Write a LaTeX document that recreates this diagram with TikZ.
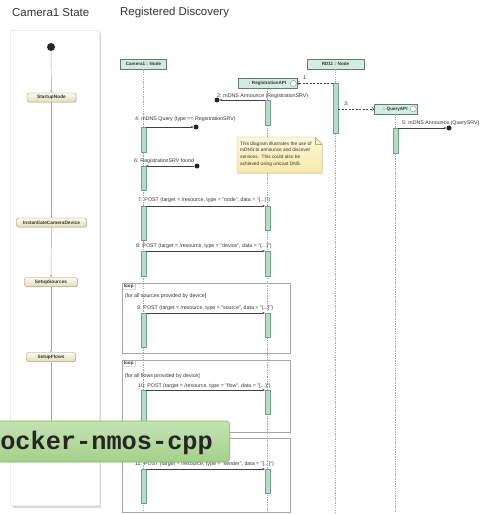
\documentclass[tikz,border=0pt]{standalone}
\usepackage{fontspec}
\setmainfont{Liberation Sans}
\newfontfamily\bannerfont{Liberation Mono}
\usetikzlibrary{arrows.meta, positioning, shadows}

\definecolor{headbg}{HTML}{D3ECDF}
\definecolor{headline}{HTML}{5E7F6E}
\definecolor{barfill}{HTML}{B7DDCA}
\definecolor{barline}{HTML}{6FA28C}
\definecolor{statetop}{HTML}{FBFBF0}
\definecolor{statebot}{HTML}{E2DFB4}
\definecolor{stateline}{HTML}{8F8D74}
\definecolor{notetop}{HTML}{FDF8D8}
\definecolor{notebot}{HTML}{F7E9A8}
\definecolor{noteline}{HTML}{B9AD84}
\definecolor{bannertop}{HTML}{C4E3B2}
\definecolor{bannerbot}{HTML}{A5D08C}
\definecolor{bannerline}{HTML}{82B468}
\definecolor{frameline}{HTML}{A8A8A8}
\definecolor{txt}{HTML}{333333}

\begin{document}
\begin{tikzpicture}[
        x=0.05cm, y=-0.05cm,
        >={Stealth[length=3.5pt, width=3pt]},
        title/.style={font=\fontsize{16.3}{18}\selectfont, text=txt, anchor=west, inner sep=0},
        state/.style={rectangle, rounded corners=3pt, draw=stateline, top color=statetop, bottom color=statebot,
            font=\fontsize{6.8}{7}\selectfont\bfseries, text=txt, minimum height=0.45cm, inner sep=1pt,
            drop shadow={shadow xshift=0.8pt, shadow yshift=-0.8pt, opacity=0.35}},
        trans/.style={draw=gray!70, line width=0.6pt},
        head/.style={rectangle, draw=headline, fill=headbg, font=\fontsize{6.5}{7}\selectfont\bfseries,
            text=txt, minimum height=0.5cm, inner sep=1pt,
            drop shadow={shadow xshift=0.8pt, shadow yshift=-0.8pt, opacity=0.35}},
        icon/.style={circle, draw=headline, fill=white, minimum size=0.3cm, inner sep=0},
        lifeline/.style={draw=gray!70, line width=0.6pt, dash pattern=on 2pt off 1.5pt},
        actbar/.style={rectangle, draw=barline, fill=barfill, minimum width=0.25cm, minimum height=#1*0.05cm,
            inner sep=0, anchor=north},
        dot/.style={circle, fill=black!85, minimum size=0.25cm, inner sep=0},
        msg/.style={font=\fontsize{7.5}{8}\selectfont, text=txt, anchor=west, inner sep=0},
        call/.style={->, draw=black!75, line width=0.5pt},
        reply/.style={-{Straight Barb[length=3pt]}, draw=black!75, line width=0.5pt, dash pattern=on 3pt off 2pt},
        frame/.style={draw=frameline, line width=0.6pt},
        looptab/.style={font=\fontsize{6.5}{7}\selectfont\bfseries, text=txt, anchor=north west, inner xsep=2.5pt, inner ysep=1.4pt}
    ]

    \useasboundingbox (0,0) rectangle (483,514);

    \node (statetitle) [title] at (12,13) {Camera1 State};
    \node (seqtitle) [title] at (120,13) {Registered Discovery};

    % state machine
    \fill[gray!30] (13,33) rectangle (101,507.5);
    \filldraw[fill=white, draw=gray!15] (10,30) rectangle (99,505);

    \node (init) [circle, fill=black!85, minimum size=0.4cm, inner sep=0] at (51,47) {};
    \node (startup) [state, minimum width=2.45cm] at (51.5,97.5) {StartupNode};
    \node (instantiate) [state, minimum width=3.5cm] at (51.5,222.5) {InstantiateCameraDevice};
    \node (sources) [state, minimum width=2.65cm] at (51,282) {SetupSources};
    \node (flows) [state, minimum width=2.45cm] at (51,357) {SetupFlows};
    \coordinate (flowsout) at (51,445);

    \draw [trans, ->] (init) -- (startup);
    \draw [trans, ->] (startup) -- (instantiate);
    \draw [trans, ->] (instantiate) -- (sources);
    \draw [trans, ->] (sources) -- (flows);
    \draw [trans] (flows) -- (flowsout);

    % sequence diagram
    \node (camera) [head, minimum width=2.3cm] at (143.5,64) {Camera1 : Node};
    \node (rd) [head, minimum width=2.85cm] at (335.5,64) {RD11 : Node};
    \node (regapi) [head, minimum width=2.95cm] at (267.5,83.5) {: RegistrationAPI\hspace{0.35cm}};
    \node (queryapi) [head, minimum width=2.15cm] at (395.5,109) {: QueryAPI\hspace{0.35cm}};
    \node (regicon) [icon, left=1pt of regapi.east] {};
    \node (queryicon) [icon, left=1pt of queryapi.east] {};

    \coordinate (cameraend) at (143.5,511);
    \coordinate (regapiend) at (267.5,512);
    \coordinate (rdend) at (335.5,512);
    \coordinate (queryapiend) at (395.5,512);
    \draw [lifeline] (camera) -- (cameraend);
    \draw [lifeline] (regapi) -- (regapiend);
    \draw [lifeline] (rd) -- (rdend);
    \draw [lifeline] (queryapi) -- (queryapiend);

    % note
    \filldraw [draw=noteline, top color=notetop, bottom color=notebot, line width=0.6pt]
        (237,137) -- (315,137) -- (322,144) -- (322,173) -- (237,173) -- cycle;
    \draw [noteline, line width=0.5pt] (315,137) -- (315,144) -- (322,144);
    \node (note) [anchor=north west, align=left, inner sep=0, text=txt, font=\fontsize{6.8}{9.6}\selectfont] at (240,141.5)
        {This diagram illustrates the use of\\mDNS to announce and discover\\services.\ \ This could also be\\achieved using unicast DNS.};

    % loops
    \draw [frame] (122,283) rectangle (290,353);
    \draw [frame] (122,360) rectangle (290,432);
    \draw [frame] (122,438) rectangle (290,512);
    \node (loopa) [looptab] at (122,283) {loop};
    \node (loopb) [looptab] at (122,360) {loop};
    \node (loopc) [looptab] at (122,438) {loop};
    \foreach \t in {loopa, loopb, loopc}
        \draw [frame] (\t.north east) -- ([yshift=1.5pt]\t.south east) -- ([xshift=-1.5pt]\t.south east) -- (\t.south west);
    \node (guarda) [msg] at (125,296) {[for all sources provided by device]};
    \node (guardb) [msg] at (125,376) {[for all flows provided by device]};

    % activations
    \node (rd1) [actbar=50] at (335.5,83) {};
    \node (reg2) [actbar=25] at (267.5,100) {};
    \node (cam4) [actbar=25] at (143.5,127) {};
    \node (qry5) [actbar=25] at (395.5,128) {};
    \node (cam6) [actbar=24] at (143.5,166) {};
    \node (cam7) [actbar=34] at (143.5,206) {};
    \node (reg7) [actbar=24] at (267.5,206) {};
    \node (cam8) [actbar=25] at (143.5,251) {};
    \node (reg8) [actbar=25] at (267.5,251) {};
    \node (cam9) [actbar=34] at (143.5,313) {};
    \node (reg9) [actbar=24] at (267.5,313) {};
    \node (cam10) [actbar=34] at (143.5,390) {};
    \node (reg10) [actbar=24] at (267.5,390) {};
    \node (cam11) [actbar=34] at (143.5,469) {};
    \node (reg11) [actbar=24] at (267.5,469) {};

    \node (dot2) [dot] at (217,100) {};
    \node (dot4) [dot] at (196,127) {};
    \node (dot5) [dot] at (449,128) {};
    \node (dot6) [dot] at (197,166) {};

    % messages
    \draw [reply] (rd1.north west) -- (rd1.north west -| regapi.east);
    \draw [call] (reg2.north west) -- (dot2);
    \draw [reply] (queryapi.west -| rd1.east) -- (queryapi.west);
    \draw [call] (cam4.north east) -- (dot4);
    \draw [call] (qry5.north east) -- (dot5);
    \draw [call] (dot6) -- (cam6.north east);
    \draw [call] (cam7.north east) -- (reg7.north west);
    \draw [call] (cam8.north east) -- (reg8.north west);
    \draw [call] (cam9.north east) -- (reg9.north west);
    \draw [call] (cam10.north east) -- (reg10.north west);
    \draw [call] (cam11.north east) -- (reg11.north west);

    \node (m1) [msg] at (303,78) {1:};
    \node (m2) [msg] at (217,96) {2: mDNS Announce (RegistrationSRV)};
    \node (m3) [msg] at (344,104) {3:};
    \node (m4) [msg] at (135,119) {4: mDNS Query (type == RegistrationSRV)};
    \node (m5) [msg] at (402,123) {5: mDNS Announce (QuerySRV)};
    \node (m6) [msg] at (134,161) {6: RegistrationSRV found};
    \node (m7) [msg] at (138,200) {7: POST (target = /resource, type = "node", data = "\{...\}")};
    \node (m8) [msg] at (136,246) {8: POST (target = /resource, type = "device", data = "\{...\}")};
    \node (m9) [msg] at (137,308) {9: POST (target = /resource, type = "source", data = "\{...\}")};
    \node (m10) [msg] at (138,386) {10: POST (target = /resource, type = "flow", data = "\{...\}")};
    \node (m11) [msg] at (135,464) {11: POST (target = /resource, type = "sender", data = "\{...\}")};

    % banner
    \node (banner) [rectangle, rounded corners=5pt, draw=bannerline, line width=0.8pt, top color=bannertop,
        bottom color=bannerbot, minimum width=12.5cm, minimum height=2.05cm, anchor=east] at (230,441.5) {};
    \node (bannertext) [anchor=east, inner sep=0, text=black!85, font=\bannerfont\bfseries\fontsize{36}{36}\selectfont]
        at (213,443) {docker-nmos-cpp};

\end{tikzpicture}
\end{document}
